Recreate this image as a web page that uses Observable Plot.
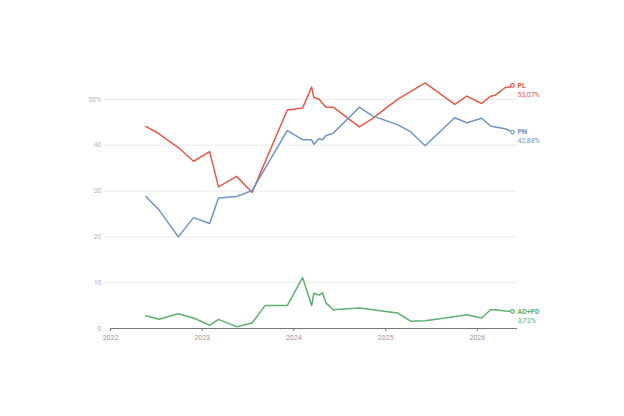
<!DOCTYPE html>
<html>
<head>
<meta charset="utf-8">
<script src="https://cdn.jsdelivr.net/npm/d3@7"></script>
<script src="https://cdn.jsdelivr.net/npm/@observablehq/plot@0.6"></script>
<style>
  html, body { margin: 0; padding: 0; background: #fff; }
  #chart svg { display: block; }
</style>
</head>
<body>
<div id="chart"></div>
<script>
const plDates = ["2022-05-22","2022-07-13","2022-09-28","2022-11-28","2023-01-31","2023-03-07","2023-05-18","2023-07-19","2023-12-06","2024-02-05","2024-03-12","2024-03-21","2024-04-10","2024-05-08","2024-06-06","2024-09-18","2024-11-09","2025-02-17","2025-06-07","2025-10-03","2025-11-20","2026-01-18","2026-02-23","2026-03-13","2026-04-22","2026-05-12","2026-05-21"];
const plValues = [44.1,42.5,39.5,36.5,38.6,30.9,33.2,29.7,47.7,48.1,52.7,50.4,50.1,48.3,48.3,44.0,45.8,50.0,53.6,48.9,50.7,49.1,50.7,50.9,52.6,52.7,53.07];

const pnDates = ["2022-05-22","2022-07-13","2022-09-28","2022-11-28","2023-01-31","2023-03-07","2023-05-18","2023-07-19","2023-12-06","2024-02-05","2024-03-12","2024-03-21","2024-04-10","2024-04-24","2024-05-08","2024-06-06","2024-09-18","2024-11-09","2025-02-17","2025-04-11","2025-06-07","2025-10-03","2025-11-20","2026-01-18","2026-02-23","2026-03-13","2026-04-22","2026-05-21"];
const pnValues = [28.8,25.9,20.0,24.2,22.9,28.5,28.8,30.1,43.2,41.2,41.2,40.2,41.4,41.2,42.1,42.6,48.3,46.4,44.5,42.9,39.9,46.0,44.9,45.9,44.2,44.0,43.6,42.88];

const adDates = ["2022-05-22","2022-07-13","2022-09-28","2022-11-28","2023-01-31","2023-03-07","2023-05-18","2023-07-19","2023-09-08","2023-12-06","2024-02-05","2024-03-12","2024-03-21","2024-04-10","2024-04-24","2024-05-08","2024-06-06","2024-09-18","2025-02-17","2025-04-11","2025-06-07","2025-09-23","2025-11-20","2026-01-18","2026-02-23","2026-03-13","2026-04-22","2026-05-21"];
const adValues = [2.8,2.0,3.2,2.3,0.7,2.0,0.4,1.2,5.0,5.0,11.1,5.0,7.7,7.3,7.8,5.6,4.1,4.5,3.4,1.6,1.7,2.5,3.0,2.3,4.1,4.1,3.8,3.73];

const seriesNames = ["PL", "PN", "AD+PD"];
const seriesColors = ["#e35a4b", "#6f94c2", "#5cb071"];
const yTicks = [0, 10, 20, 30, 40, 50];
const xTicks = ["2022-01-01","2023-01-01","2024-01-01","2025-01-01","2026-01-01"];
const xDomain = ["2022-01-01","2026-06-10"];
const yDomain = [0, 55];

const parse = d3.utcParse("%Y-%m-%d");
function build(name, dates, values) {
  return dates.map((d, i) => ({ name, date: parse(d), value: values[i] }));
}
const data = [
  ...build("PL", plDates, plValues),
  ...build("PN", pnDates, pnValues),
  ...build("AD+PD", adDates, adValues)
];
const last = seriesNames.map(n => {
  const pts = data.filter(d => d.name === n);
  return pts[pts.length - 1];
});
const fmt = v => v.toFixed(2).replace(".", ",") + "%";

const chart = Plot.plot({
  width: 624,
  height: 416,
  marginLeft: 110,
  marginRight: 107,
  marginTop: 76,
  marginBottom: 88,
  style: { fontFamily: "Roboto, 'Noto Sans', sans-serif", background: "#fff" },
  x: { type: "utc", domain: xDomain.map(parse), label: null },
  y: { domain: yDomain, label: null },
  color: { domain: seriesNames, range: seriesColors },
  marks: [
    Plot.gridY(yTicks.filter(t => t > 0), { stroke: "#ebebeb", strokeOpacity: 1, insetLeft: -6 }),
    Plot.axisY(yTicks, {
      label: null,
      tickSize: 0,
      tickPadding: 9,
      fontSize: 7,
      fill: "#b8b8b8",
      tickFormat: t => t === 50 ? "50%" : String(t)
    }),
    Plot.ruleY([0], { stroke: "#777", strokeWidth: 1 }),
    Plot.axisX(xTicks.map(parse), {
      label: null,
      tickSize: 3,
      tickPadding: 4,
      fontSize: 7,
      fill: "#999",
      stroke: "#777",
      tickFormat: d3.utcFormat("%Y")
    }),
    Plot.line(data, { x: "date", y: "value", z: "name", stroke: "name", strokeWidth: 1.5, curve: "linear" }),
    Plot.dot(last, { x: "date", y: "value", stroke: "name", fill: "#fff", r: 1.8, strokeWidth: 1.2 }),
    Plot.text(last, {
      x: "date", y: "value", text: "name", fill: "name",
      textAnchor: "start", dx: 5, dy: 0, fontSize: 7, fontWeight: "bold"
    }),
    Plot.text(last, {
      x: "date", y: "value", text: d => fmt(d.value), fill: "name",
      textAnchor: "start", dx: 5, dy: 9, fontSize: 7
    })
  ]
});
document.getElementById("chart").appendChild(chart);
</script>
</body>
</html>
